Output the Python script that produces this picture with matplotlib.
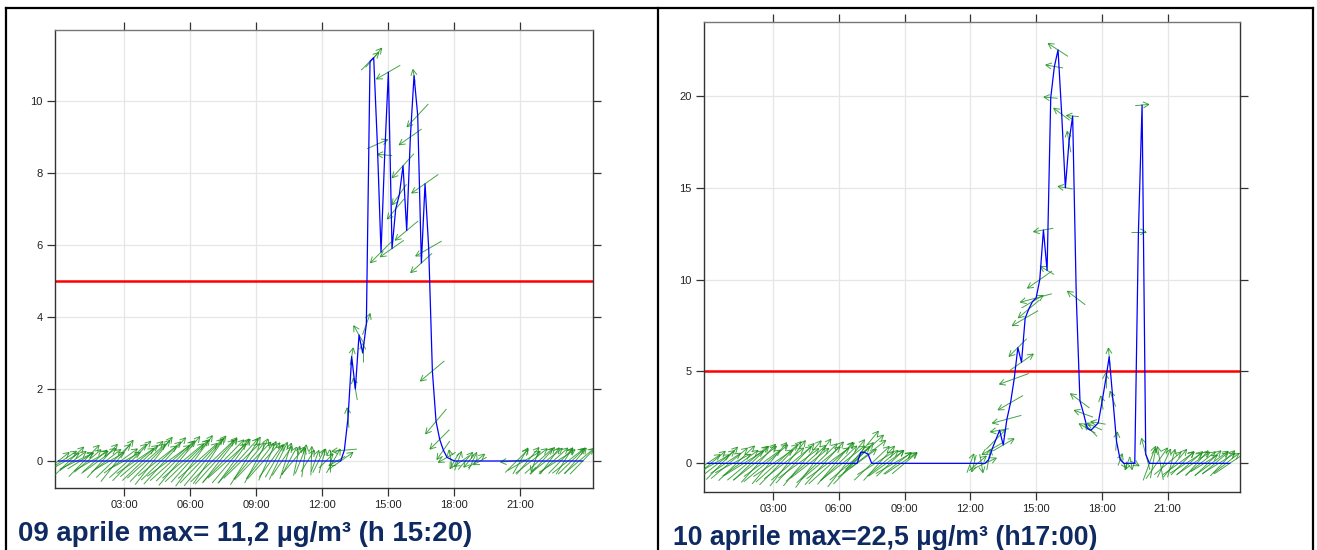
import numpy as np
import matplotlib
matplotlib.use("Agg")
import matplotlib.pyplot as plt
from matplotlib.collections import LineCollection
from matplotlib.lines import Line2D

plt.rcParams['font.family'] = ['Liberation Sans', 'DejaVu Sans']

# 10-minute time grid (hours from midnight)
hours = np.arange(144) / 6.0
tick_hours = [3, 6, 9, 12, 15, 18, 21]
tick_labels = ["03:00", "06:00", "09:00", "12:00", "15:00", "18:00", "21:00"]
limit = 5
nan = float('nan')

# ---- 09 aprile ----
conc_09 = ([0.0] * 78 +
           [0.3, 1.2, 2.9, 2.0, 3.5, 3.0, 3.8, 11.1, 11.2, 8.8,
            5.8, 8.5, 10.8, 5.9, 7.0, 7.4, 8.2, 6.4, 9.0, 10.7,
            9.6, 5.5, 7.7, 5.9, 2.5, 1.1, 0.6, 0.3, 0.1, 0.05] +
           [0.0] * 36)
wd_09 = [232, 236, 240, 226, 234, 244, 238, 224, 230, 240, 228, 234,
         222, 232, 240, 226, 218, 234, 242, 228, 224, 236, 230, 226,
         228, 224, 218, 232, 226, 222, 234, 228, 224, 220, 230, 226,
         222, 216, 228, 224, 220, 214, 226, 222, 218, 224, 228, 220,
         216, 222, 226, 212, 220, 224, 208, 218, 222, 204, 216, 210,
         206, 214, 198, 208, 220, 192, 202, 188, 212, 182, 200, 207,
         195, 225, 180, 210, 60, 235, 85, 175, 190, 170, 150, 180,
         200, 225, 220, 246, 45, 95, 60, 55, 40, 35, 42, 50,
         55, 170, 43, 48, 55, 60, 50, 40, 45, 35, 60, 170,
         30, 200, 55, 220, 40, 205, 230, 60, nan, nan, nan, nan,
         nan, nan, nan, nan, 85, 225, 210, 240, 220, 232, 20, 228,
         222, 232, 216, 228, 238, 224, 212, 232, 226, 220, 230, 224]
ws_09 = [2.2, 2.8, 2.5, 3.2, 2.6, 3.0, 2.4, 3.5, 2.8, 3.1, 2.6, 3.4,
         3.6, 3.0, 2.7, 3.8, 4.2, 3.3, 2.9, 4.0, 4.4, 3.6, 3.9, 4.5,
         4.1, 4.6, 4.8, 3.9, 4.4, 5.0, 4.2, 4.7, 4.5, 5.1, 4.3, 4.8,
         4.6, 5.0, 4.2, 4.9, 5.2, 4.4, 4.8, 5.0, 4.5, 4.7, 4.1, 4.6,
         4.3, 4.8, 4.0, 4.5, 3.8, 4.2, 4.0, 3.6, 3.9, 3.4, 3.2, 3.0,
         3.3, 2.8, 3.0, 2.5, 2.9, 2.4, 2.2, 2.6, 2.0, 2.3, 1.8, 2.1,
         2.0, 1.6, 1.8, 2.2, 1.5, 2.4, 2.0, 1.6, 1.4, 1.8, 1.7, 1.5,
         1.8, 2.0, 2.0, 1.8, 2.4, 1.2, 2.2, 2.3, 2.1, 2.0, 2.6, 2.4,
         2.2, 1.0, 2.5, 2.3, 2.6, 2.4, 2.5, 2.6, 2.2, 1.8, 1.6, 1.5,
         1.4, 1.6, 1.5, 1.8, 1.3, 1.5, 1.7, 1.2, nan, nan, nan, nan,
         nan, nan, nan, nan, 2.0, 2.6, 2.4, 3.0, 2.8, 3.2, 1.8, 3.0,
         2.9, 3.3, 2.6, 3.1, 3.4, 2.8, 2.5, 3.2, 3.0, 2.7, 3.1, 2.9]

# ---- 10 aprile ----
conc_10 = ([0.0] * 42 + [0.6, 0.6, 0.5] + [0.0] * 32 +
           [0.2, 0.8, 1.3, 1.8, 1.0, 2.4, 3.3, 4.6, 6.3, 5.5,
            7.9, 8.4, 8.8, 9.0, 10.0, 12.7, 10.5, 19.9, 21.6, 22.5,
            19.0, 15.0, 17.5, 18.9, 9.0, 3.4, 2.7, 1.9, 1.8, 2.0,
            2.2, 3.3, 4.5, 5.8, 3.5, 1.2, 0.2] +
           [0.0] * 4 + [12.6, 19.5, 0.5] + [0.0] * 23)
wd_10 = [236, 230, 240, 232, 224, 236, 230, 242, 226, 234, 238, 230,
         226, 232, 222, 234, 230, 220, 236, 228, 224, 232, 218, 230,
         224, 234, 220, 228, 232, 216, 226, 230, 222, 234, 228, 220,
         226, 232, 218, 230, 224, 234, 220, 228, 232, 226, 238, 222,
         230, 234, 226, 240, 232, 236, 230, nan, nan, nan, nan, nan,
         nan, nan, nan, nan, nan, nan, nan, nan, nan, nan, nan, nan,
         200, 15, 230, 350, 245, 190, 60, 225, 80, 240, 75, 60,
         70, 45, 235, 60, 50, 240, 75, 55, 80, 120, 95, 100,
         123, 127, 100, 170, 95, 127, 127, 110, 120, 135, 115, 100,
         170, 180, 175, 160, 185, 200, 330, 20, 350, 300, 270, 265,
         165, 200, 190, 215, 170, 205, 230, 195, 220, 234, 224, 238,
         228, 236, 222, 232, 238, 226, 234, 230, 238, 224, 232, 236]
ws_10 = [2.5, 3.0, 2.7, 3.3, 3.6, 2.9, 3.8, 3.2, 4.0, 3.5, 3.7, 4.2,
         3.9, 4.4, 4.1, 3.6, 4.6, 4.3, 3.8, 4.5, 4.8, 4.0, 4.6, 4.2,
         4.4, 4.0, 4.7, 4.3, 3.9, 4.8, 4.5, 4.1, 4.6, 4.2, 4.9, 4.4,
         4.0, 4.5, 4.8, 4.2, 4.6, 3.8, 4.4, 4.1, 3.6, 3.9, 3.4, 3.7,
         3.2, 3.5, 3.0, 3.3, 2.8, 3.1, 2.6, nan, nan, nan, nan, nan,
         nan, nan, nan, nan, nan, nan, nan, nan, nan, nan, nan, nan,
         1.6, 1.4, 1.8, 1.5, 2.0, 1.7, 1.9, 2.2, 1.5, 2.0, 2.4, 2.3,
         2.5, 2.0, 2.3, 2.4, 2.2, 2.0, 2.6, 2.4, 1.6, 1.3, 1.1, 1.4,
         1.9, 1.6, 1.2, 1.7, 1.0, 1.8, 1.9, 1.6, 1.5, 1.4, 1.3, 1.2,
         1.1, 1.2, 1.4, 1.3, 1.5, 1.0, 0.9, 1.1, 1.0, 0.8, 1.2, 1.1,
         2.6, 2.9, 2.4, 3.0, 2.7, 2.5, 2.8, 2.3, 2.9, 3.1, 2.6, 3.0,
         2.8, 3.2, 2.7, 3.0, 2.5, 2.9, 3.3, 2.7, 3.1, 2.8, 2.6, 3.0]

caption_09 = "09 aprile max= 11,2 µg/m³ (h 15:20)"
caption_10 = "10 aprile max=22,5 µg/m³ (h17:00)"

W, H = 1317, 550
fig = plt.figure(figsize=(W / 100, H / 100), dpi=100)


def wind_arrows(ax, x, y, wd, ws, px_per_ms=12.5, head=6.5):
    # arrows sized in pixels and centred on each point
    bb = ax.get_position()
    x0, x1 = ax.get_xlim()
    y0, y1 = ax.get_ylim()
    sx = (x1 - x0) / (bb.width * W)
    sy = (y1 - y0) / (bb.height * H)
    segs = []
    for xi, yi, d, s in zip(x, y, wd, ws):
        if np.isnan(s) or np.isnan(d):
            continue
        b = np.radians(d + 180.0)
        ux, uy = np.sin(b), np.cos(b)
        tx, ty = ux * s * px_per_ms / 2, uy * s * px_per_ms / 2
        tip = (xi + tx * sx, yi + ty * sy)
        segs.append([(xi - tx * sx, yi - ty * sy), tip])
        for a in (np.radians(28), -np.radians(28)):
            hx = -ux * np.cos(a) + uy * np.sin(a)
            hy = -uy * np.cos(a) - ux * np.sin(a)
            segs.append([tip, (tip[0] + hx * head * sx, tip[1] + hy * head * sy)])
    ax.add_collection(LineCollection(segs, colors='#178f17', linewidths=0.7,
                                     alpha=0.8, zorder=3))


def panel(rect, conc, wd, ws, ylim, yticks):
    ax = fig.add_axes(rect)
    ax.set_xlim(-0.15, 24.3)
    ax.set_ylim(*ylim)
    ax.set_xticks(tick_hours)
    ax.set_xticklabels(tick_labels)
    ax.set_yticks(yticks)
    ax.grid(True, color='#e6e6e6', lw=0.9, zorder=0)
    ax.set_axisbelow(True)
    for sp in ax.spines.values():
        sp.set_color('#333333')
        sp.set_linewidth(1.0)
    ax.spines['top'].set_color('#777777')
    ax.tick_params(direction='out', length=6, width=0.9, color='#333333',
                   labelsize=8, labelcolor='#222222', pad=3,
                   top=True, right=True, labeltop=False, labelright=False)
    ax.axhline(limit, color='#ff0000', lw=1.8, zorder=2)
    ax.plot(hours, conc, color='#0000ff', lw=0.9, zorder=4)
    wind_arrows(ax, hours, conc, wd, ws)
    return ax


ax1 = panel([55 / W, 1 - 488 / H, 538 / W, 458 / H], conc_09, wd_09, ws_09,
            (-0.75, 11.97), [0, 2, 4, 6, 8, 10])
ax2 = panel([704 / W, 1 - 492 / H, 536 / W, 470 / H], conc_10, wd_10, ws_10,
            (-1.56, 24.02), [0, 5, 10, 15, 20])

# outer frames of the slide
frame = dict(color='black', lw=1.6, transform=fig.transFigure)
fig.add_artist(Line2D([6 / W, 1313 / W], [1 - 8 / H, 1 - 8 / H], **frame))
fig.add_artist(Line2D([6 / W, 6 / W], [0, 1 - 8 / H], **frame))
fig.add_artist(Line2D([657.5 / W, 657.5 / W], [0, 1 - 8 / H], **frame))
fig.add_artist(Line2D([1313 / W, 1313 / W], [0, 1 - 8 / H], **frame))

fig.text(18 / W, 1 - 541 / H, caption_09, fontsize=19.9, fontweight='bold',
         color='#0f2a62', ha='left', va='baseline')
fig.text(673 / W, 1 - 545 / H, caption_10, fontsize=19.2, fontweight='bold',
         color='#0f2a62', ha='left', va='baseline')

fig.savefig('out.png', dpi=100)
